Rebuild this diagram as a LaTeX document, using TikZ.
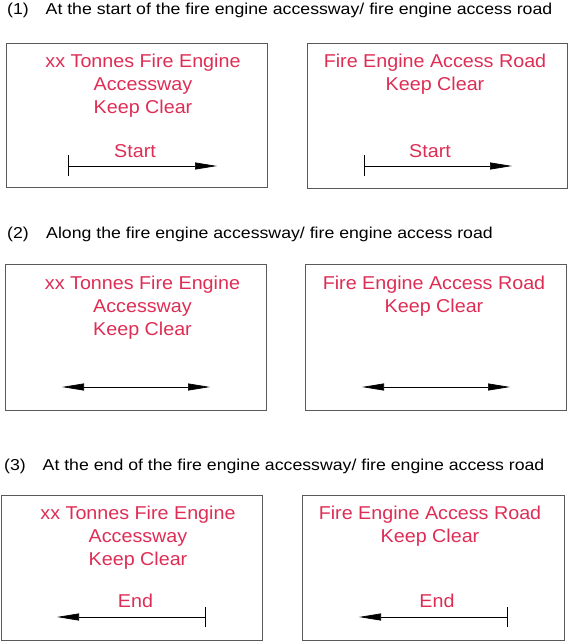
\documentclass[tikz,border=0pt]{standalone}
\usepackage{fontspec}
\setmainfont{Liberation Sans}
\newfontfamily\headfont[FakeStretch=1.12]{Liberation Sans}
\newfontfamily\signfont[FakeStretch=1.06]{Liberation Sans}
\usetikzlibrary{arrows.meta}
\definecolor{signred}{RGB}{222,45,85}
\definecolor{framegray}{RGB}{90,90,90}
\begin{document}
\begin{tikzpicture}[x=1pt,y=-1pt,
  box/.style={draw=framegray, line width=0.9pt, inner sep=0pt, outer sep=0pt, anchor=north west},
  sign/.style={text=signred, font=\signfont\fontsize{18.6}{22}\selectfont, inner sep=0pt, anchor=base},
  head/.style={font=\headfont\fontsize{15.8}{18}\selectfont, inner sep=0pt, anchor=base west},
  arr/.style={line width=0.7pt, -{Triangle[length=22pt,width=7pt]}},
  darr/.style={line width=0.7pt, {Triangle[length=22pt,width=7pt]}-{Triangle[length=22pt,width=7pt]}},
  tickline/.style={line width=0.7pt}]
\useasboundingbox (0,0) rectangle (569,641);

% headings
\node[head] (n1) at (7,14.7) {(1)};
\node[head] (h1) at (45.5,14.7) {At the start of the fire engine accessway/ fire engine access road};
\node[head] (n2) at (7,238.5) {(2)};
\node[head] (h2) at (46,238.5) {Along the fire engine accessway/ fire engine access road};
\node[head] (n3) at (4,470) {(3)};
\node[head] (h3) at (42.5,470) {At the end of the fire engine accessway/ fire engine access road};

% boxes
\node[box, minimum width=261pt, minimum height=144pt] (b1) at (6,43) {};
\node[box, minimum width=260pt, minimum height=145pt] (b2) at (307,43) {};
\node[box, minimum width=261pt, minimum height=146pt] (b3) at (5,264) {};
\node[box, minimum width=261pt, minimum height=146pt] (b4) at (305,264) {};
\node[box, minimum width=261pt, minimum height=145pt] (b5) at (1,495) {};
\node[box, minimum width=262pt, minimum height=145pt] (b6) at (302,495) {};

% box 1
\node[sign] (t1a) at (143,67) {xx Tonnes Fire Engine};
\node[sign] (t1b) at (143,90.5) {Accessway};
\node[sign] (t1c) at (143,113.5) {Keep Clear};
\node[sign] (t1d) at (135,157) {Start};
\coordinate (s1) at (68,166);
\coordinate (e1) at (217,166);
\draw[tickline] ([yshift=11pt]s1) -- ([yshift=-10pt]s1);
\draw[arr] (s1) -- (e1);

% box 2
\node[sign] (t2a) at (435,67) {Fire Engine Access Road};
\node[sign] (t2b) at (435,90.5) {Keep Clear};
\node[sign] (t2d) at (430,157) {Start};
\coordinate (s2) at (364,166);
\coordinate (e2) at (512,166);
\draw[tickline] ([yshift=11pt]s2) -- ([yshift=-10pt]s2);
\draw[arr] (s2) -- (e2);

% box 3
\node[sign] (t3a) at (142.5,289) {xx Tonnes Fire Engine};
\node[sign] (t3b) at (142.5,312.3) {Accessway};
\node[sign] (t3c) at (142.5,335.7) {Keep Clear};
\coordinate (s3) at (62,387);
\coordinate (e3) at (210,387);
\draw[darr] (s3) -- (e3);

% box 4
\node[sign] (t4a) at (434,289) {Fire Engine Access Road};
\node[sign] (t4b) at (434,312.3) {Keep Clear};
\coordinate (s4) at (362,387);
\coordinate (e4) at (510,387);
\draw[darr] (s4) -- (e4);

% box 5
\node[sign] (t5a) at (138,519) {xx Tonnes Fire Engine};
\node[sign] (t5b) at (138,542.3) {Accessway};
\node[sign] (t5c) at (138,565.7) {Keep Clear};
\node[sign] (t5d) at (135.5,607.7) {End};
\coordinate (s5) at (205,617);
\coordinate (e5) at (57,617);
\draw[tickline] ([yshift=10pt]s5) -- ([yshift=-10pt]s5);
\draw[arr] (s5) -- (e5);

% box 6
\node[sign] (t6a) at (430,519) {Fire Engine Access Road};
\node[sign] (t6b) at (430,542.3) {Keep Clear};
\node[sign] (t6d) at (437,607.7) {End};
\coordinate (s6) at (507,617);
\coordinate (e6) at (359,617);
\draw[tickline] ([yshift=10pt]s6) -- ([yshift=-10pt]s6);
\draw[arr] (s6) -- (e6);
\end{tikzpicture}
\end{document}
